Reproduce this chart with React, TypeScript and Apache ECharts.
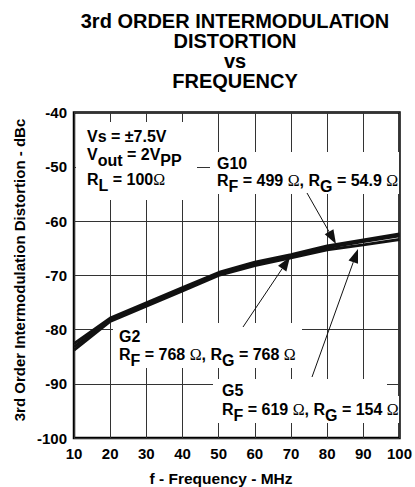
import React, { useEffect, useRef } from "react";
import * as echarts from "echarts";

// ---- data ----
const freqs = [10, 20, 30, 40, 50, 60, 70, 80, 90, 100];
const g10 = [-82.6, -77.9, -75.1, -72.3, -69.5, -67.6, -66.2, -64.6, -63.5, -62.4];
const g2 = [-83.2, -78.2, -75.4, -72.6, -69.8, -67.9, -66.5, -64.9, -63.8, -62.7];
const g5 = [-83.8, -78.5, -75.7, -72.9, -70.0, -68.2, -66.8, -65.3, -64.4, -63.4];
const seriesNames = ["G10", "G2", "G5"];
const titleLines = ["3rd ORDER INTERMODULATION", "DISTORTION", "vs", "FREQUENCY"];
const xName = "f - Frequency - MHz";
const yName = "3rd Order Intermodulation Distortion - dBc";

const FONT = "'Liberation Sans', Arial, Helvetica, sans-serif";
const SERIF = "'Liberation Serif', 'Times New Roman', serif";

const rich = {
  n: { fontSize: 16, fontWeight: "bold", fontFamily: FONT, lineHeight: 16, verticalAlign: "top", color: "#000" },
  s: { fontSize: 16, fontWeight: "bold", fontFamily: FONT, lineHeight: 16, verticalAlign: "top", padding: [6, 0, 0, 0], color: "#000" },
  o: { fontSize: 16, fontWeight: "normal", fontFamily: SERIF, lineHeight: 16, verticalAlign: "top", color: "#000" },
};

function richText(x: number, y: number, text: string) {
  return {
    type: "text",
    x,
    y,
    z: 5,
    style: { text, rich, verticalAlign: "top", align: "left" },
  };
}

function whiteBox(x: number, y: number, w: number, h: number) {
  return { type: "rect", z: 1, shape: { x, y, width: w, height: h }, style: { fill: "#fff" } };
}

function arrow(x1: number, y1: number, x2: number, y2: number) {
  const len = 14;
  const half = 5;
  const dx = x2 - x1;
  const dy = y2 - y1;
  const L = Math.hypot(dx, dy);
  const ux = dx / L;
  const uy = dy / L;
  const bx = x2 - ux * len;
  const by = y2 - uy * len;
  const px = -uy;
  const py = ux;
  return [
    { type: "line", z: 6, shape: { x1, y1, x2: bx, y2: by }, style: { stroke: "#111", lineWidth: 1 } },
    {
      type: "polygon",
      z: 6,
      shape: { points: [[x2, y2], [bx + px * half, by + py * half], [bx - px * half, by - py * half]] },
      style: { fill: "#111" },
    },
  ];
}

export default function App() {
  const ref = useRef<HTMLDivElement>(null);
  useEffect(() => {
    if (!ref.current) return;
    const chart = echarts.init(ref.current, null, { renderer: "svg" });
    const mk = (vals: number[]) => freqs.map((f, i) => [f, vals[i]]);
    const allSeries = [g10, g2, g5];
    chart.setOption({
      animation: false,
      backgroundColor: "#fff",
      textStyle: { fontFamily: FONT },
      grid: {
        left: 74,
        right: 14,
        top: 112.5,
        bottom: 49,
        show: true,
        borderColor: "#000",
        borderWidth: 2.5,
        backgroundColor: "transparent",
      },
      xAxis: {
        type: "value",
        min: 10,
        max: 100,
        interval: 10,
        axisLine: { show: false },
        axisTick: { show: false },
        splitLine: { show: true, lineStyle: { color: "#333", width: 1 } },
        axisLabel: { color: "#000", fontWeight: "bold", fontSize: 15, fontFamily: FONT, margin: 8 },
      },
      yAxis: {
        type: "value",
        min: -100,
        max: -40,
        interval: 10,
        axisLine: { show: false },
        axisTick: { show: false },
        splitLine: { show: true, lineStyle: { color: "#333", width: 1 } },
        axisLabel: { color: "#000", fontWeight: "bold", fontSize: 15, fontFamily: FONT, margin: 7 },
      },
      series: allSeries.map((vals, i) => ({
        name: seriesNames[i],
        type: "line",
        data: mk(vals),
        showSymbol: false,
        lineStyle: { color: "#111", width: 3 },
        z: 2,
      })),
      graphic: [
        {
          type: "text",
          x: 235,
          y: 11,
          z: 5,
          style: {
            text: titleLines.join("\n"),
            align: "center",
            verticalAlign: "top",
            fontSize: 20,
            lineHeight: 20,
            fontWeight: "bold",
            fontFamily: FONT,
            fill: "#000",
          },
        },
        {
          type: "text",
          x: 19.5,
          y: 270,
          rotation: Math.PI / 2,
          z: 5,
          style: {
            text: yName,
            align: "center",
            verticalAlign: "middle",
            fontSize: 15,
            fontWeight: "bold",
            fontFamily: FONT,
            fill: "#000",
          },
        },
        {
          type: "text",
          x: 221,
          y: 471,
          z: 5,
          style: {
            text: xName,
            align: "center",
            verticalAlign: "top",
            fontSize: 15.5,
            lineHeight: 15.5,
            fontWeight: "bold",
            fontFamily: FONT,
            fill: "#000",
          },
        },
        whiteBox(76, 122, 121, 78),
        whiteBox(210, 152, 189, 42),
        whiteBox(113, 323, 189, 45),
        whiteBox(213, 379, 174, 44),
        whiteBox(213, 396, 186, 27),
        richText(87, 128.5, "{n|Vs = ±7.5V}"),
        richText(87, 146.5, "{n|V}{s|out}{n| = 2V}{s|PP}"),
        richText(87, 171.5, "{n|R}{s|L}{n| = 100}{o|Ω}"),
        richText(217, 155.5, "{n|G10}"),
        richText(217, 172, "{n|R}{s|F}{n| = 499 }{o|Ω}{n|, R}{s|G}{n| = 54.9 }{o|Ω}"),
        richText(119, 328.5, "{n|G2}"),
        richText(119, 346.5, "{n|R}{s|F}{n| = 768 }{o|Ω}{n|, R}{s|G}{n| = 768 }{o|Ω}"),
        richText(222, 382.5, "{n|G5}"),
        richText(222, 401, "{n|R}{s|F}{n| = 619 }{o|Ω}{n|, R}{s|G}{n| = 154 }{o|Ω}"),
        ...arrow(307, 193, 336, 244),
        ...arrow(243, 327, 290, 257),
        ...arrow(312, 377, 358, 249),
      ],
    });
    return () => chart.dispose();
  }, []);
  return (
    <div
      ref={ref}
      style={{ position: "fixed", left: 0, top: 0, width: 415, height: 487 }}
    />
  );
}
